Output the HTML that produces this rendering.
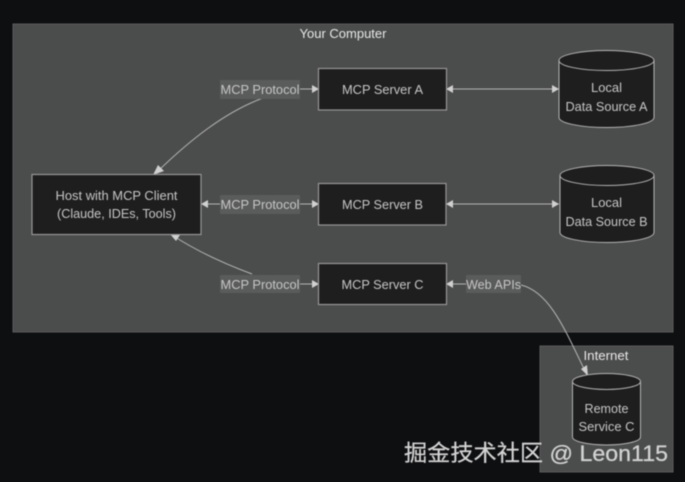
<!DOCTYPE html>
<html>
<head>
<meta charset="utf-8">
<style>
html,body{margin:0;padding:0;background:#0e0f11;width:685px;height:482px;overflow:hidden}
svg{display:block;filter:blur(0.45px)}
text{font-family:"Liberation Sans","Noto Sans CJK SC",sans-serif;font-size:12.5px;fill:#c6c6c6;text-anchor:middle}
.n{fill:#1e1e1e;stroke:#969696;stroke-width:1.2}
.c{fill:#1e1e1e;stroke:#b4b4b4;stroke-width:1}
.l{fill:none;stroke:#b4b4b4;stroke-width:1}
.a{fill:#d0d0d0}
.b{fill:#5a5b5b}
</style>
</head>
<body>
<svg width="685" height="482" viewBox="0 0 685 482" xmlns="http://www.w3.org/2000/svg">
<rect width="685" height="482" fill="#0e0f11"/>
<rect x="13" y="24" width="660" height="308" fill="#4b4c4c" stroke="#5a5b5b" stroke-width="1"/>
<rect x="540" y="346" width="133" height="126" fill="#4b4c4c" stroke="#5a5b5b" stroke-width="1"/>

<text x="343" y="38" textLength="87" lengthAdjust="spacingAndGlyphs" style="fill:#e8e8e8">Your Computer</text>
<text x="606" y="360" textLength="45" lengthAdjust="spacingAndGlyphs" style="fill:#e8e8e8">Internet</text>

<!-- connectors -->
<path class="l" d="M300 89H318"/>
<path class="l" d="M201 204H220"/>
<path class="l" d="M300 204H318"/>
<path class="l" d="M300 284H318"/>
<path class="l" d="M263 98C225 112 190 140 157 172"/>
<path class="l" d="M252 274C225 264 195 250 172 235"/>
<path class="l" d="M446 89H559"/>
<path class="l" d="M446 204H559"/>
<path class="l" d="M446 284H466"/>
<path class="l" d="M521 285C550 292 565 330 587 375"/>

<!-- arrowheads -->
<polygon class="a" points="319,89 312,85 312,93"/>
<polygon class="a" points="319,204 312,200 312,208"/>
<polygon class="a" points="319,284 312,280 312,288"/>
<polygon class="a" points="201,204 208,200 208,208"/>
<polygon class="a" points="446,89 453,85 453,93"/>
<polygon class="a" points="559,89 552,85 552,93"/>
<polygon class="a" points="446,204 453,200 453,208"/>
<polygon class="a" points="559,204 552,200 552,208"/>
<polygon class="a" points="446,284 453,280 453,288"/>
<polygon class="a" points="153,175 164,171 158,165"/>
<polygon class="a" points="170,234 176,241 180,235"/>
<polygon class="a" points="588,376 581,369 587,365"/>

<!-- edge labels -->
<rect class="b" x="220" y="80" width="80" height="19"/>
<rect class="b" x="220" y="195" width="80" height="19"/>
<rect class="b" x="220" y="275" width="80" height="18"/>
<rect class="b" x="466" y="275" width="55" height="18"/>
<text x="260" y="94" textLength="79" lengthAdjust="spacingAndGlyphs">MCP Protocol</text>
<text x="260" y="209" textLength="79" lengthAdjust="spacingAndGlyphs">MCP Protocol</text>
<text x="260" y="289" textLength="79" lengthAdjust="spacingAndGlyphs">MCP Protocol</text>
<text x="493.500" y="289" textLength="55" lengthAdjust="spacingAndGlyphs">Web APIs</text>

<!-- nodes -->
<rect class="n" x="32" y="174.500" width="169" height="60"/>
<text x="116.500" y="200" textLength="122" lengthAdjust="spacingAndGlyphs">Host with MCP Client</text>
<text x="116.500" y="218" textLength="119" lengthAdjust="spacingAndGlyphs">(Claude, IDEs, Tools)</text>

<rect class="n" x="318.500" y="68.500" width="128" height="41.500"/>
<text x="382.500" y="94" textLength="81" lengthAdjust="spacingAndGlyphs">MCP Server A</text>
<rect class="n" x="318.500" y="183.500" width="127.500" height="41.500"/>
<text x="382.500" y="209" textLength="81" lengthAdjust="spacingAndGlyphs">MCP Server B</text>
<rect class="n" x="318.500" y="263.500" width="128" height="41"/>
<text x="382.500" y="289" textLength="82" lengthAdjust="spacingAndGlyphs">MCP Server C</text>

<!-- cylinders -->
<path class="c" d="M559 60.500A47.500 10 0 0 1 654 60.500V117.500A47.500 10 0 0 1 559 117.500Z"/>
<path class="c" d="M559 60.500A47.500 10 0 0 0 654 60.500"/>
<text x="606.500" y="92" textLength="31" lengthAdjust="spacingAndGlyphs">Local</text>
<text x="606.500" y="111" textLength="82" lengthAdjust="spacingAndGlyphs">Data Source A</text>

<path class="c" d="M560 175.500A47 10 0 0 1 654 175.500V232.500A47 10 0 0 1 560 232.500Z"/>
<path class="c" d="M560 175.500A47 10 0 0 0 654 175.500"/>
<text x="606.500" y="207" textLength="31" lengthAdjust="spacingAndGlyphs">Local</text>
<text x="606.500" y="226" textLength="82" lengthAdjust="spacingAndGlyphs">Data Source B</text>

<path class="c" d="M572.500 381.500A34 8 0 0 1 640.500 381.500V437A34 8 0 0 1 572.500 437Z"/>
<path class="c" d="M572.500 381.500A34 8 0 0 0 640.500 381.500"/>
<text x="606.500" y="413" textLength="44" lengthAdjust="spacingAndGlyphs">Remote</text>
<text x="606.500" y="431" textLength="56" lengthAdjust="spacingAndGlyphs">Service C</text>

<!-- watermark -->
<text x="536" y="461" textLength="264" lengthAdjust="spacingAndGlyphs" style="font-size:22.500px;fill:#d2d2d2;stroke:#d2d2d2;stroke-width:0.25">掘金技术社区 @ Leon115</text>
</svg>
</body>
</html>
